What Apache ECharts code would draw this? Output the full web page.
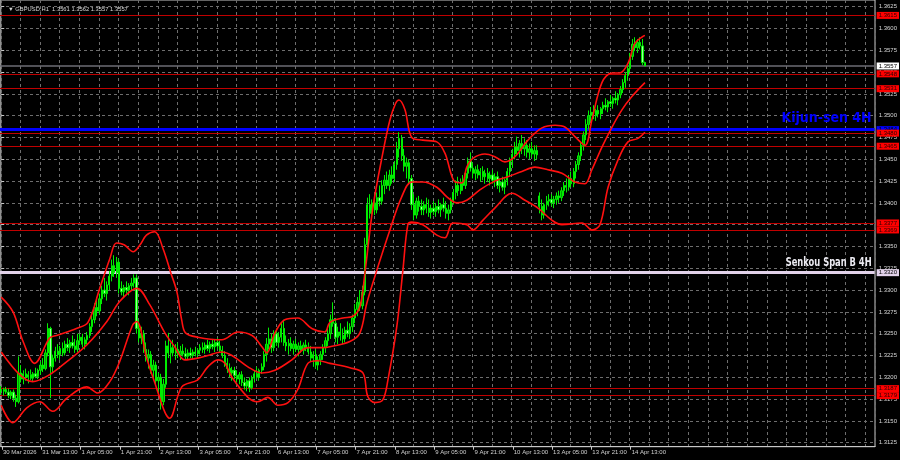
<!DOCTYPE html>
<html><head><meta charset="utf-8">
<script src="https://cdn.jsdelivr.net/npm/echarts@6/dist/echarts.min.js"></script>
<style>html,body{margin:0;padding:0;background:#000;}#c{width:900px;height:460px;}</style>
</head><body><div id="c"></div>
<script>
const headerText = 'GBPUSD,H1  1.3561 1.3562 1.3557 1.3557';
const slotCount = 356;
const timeLabels = ['30 Mar 2026','31 Mar 13:00','1 Apr 05:00','1 Apr 21:00','2 Apr 13:00','3 Apr 05:00','3 Apr 21:00','6 Apr 13:00','7 Apr 05:00','7 Apr 21:00','8 Apr 13:00','9 Apr 05:00','9 Apr 21:00','10 Apr 13:00','13 Apr 05:00','13 Apr 21:00','14 Apr 13:00'];
const priceMin = 1.3125, priceMax = 1.3625, priceStep = 0.0025;
// [open, high, low, close]
const ohlc = [
[1.3186,1.3190,1.3180,1.3184],[1.3184,1.3188,1.3179,1.3186],[1.3186,1.3189,1.3181,1.3183],[1.3183,1.3187,1.3176,1.3179],[1.3179,1.3185,1.3175,1.3183],
[1.3183,1.3186,1.3172,1.3176],[1.3176,1.3180,1.3166,1.3172],[1.3172,1.3224,1.3170,1.3205],[1.3205,1.3214,1.3194,1.3198],[1.3198,1.3208,1.3192,1.3204],
[1.3204,1.3210,1.3196,1.3200],[1.3200,1.3207,1.3193,1.3203],[1.3203,1.3209,1.3197,1.3199],[1.3199,1.3206,1.3195,1.3204],[1.3204,1.3211,1.3199,1.3201],
[1.3201,1.3210,1.3198,1.3208],[1.3208,1.3218,1.3203,1.3214],[1.3214,1.3222,1.3206,1.3210],[1.3210,1.3232,1.3208,1.3228],[1.3228,1.3262,1.3224,1.3256],
[1.3256,1.3258,1.3176,1.3212],[1.3212,1.3226,1.3205,1.3222],[1.3222,1.3235,1.3218,1.3230],[1.3230,1.3238,1.3222,1.3226],[1.3226,1.3236,1.3220,1.3233],
[1.3233,1.3240,1.3224,1.3228],[1.3228,1.3242,1.3225,1.3238],[1.3238,1.3245,1.3230,1.3234],[1.3234,1.3243,1.3228,1.3240],[1.3240,1.3248,1.3233,1.3236],
[1.3236,1.3244,1.3228,1.3232],[1.3232,1.3250,1.3229,1.3242],[1.3242,1.3250,1.3238,1.3246],[1.3246,1.3250,1.3234,1.3238],[1.3238,1.3246,1.3232,1.3243],
[1.3243,1.3252,1.3238,1.3248],[1.3248,1.3262,1.3245,1.3258],[1.3258,1.3272,1.3252,1.3266],[1.3266,1.3285,1.3262,1.3280],[1.3280,1.3292,1.3270,1.3276],
[1.3276,1.3296,1.3272,1.3290],[1.3290,1.3305,1.3284,1.3300],[1.3300,1.3314,1.3292,1.3296],[1.3296,1.3310,1.3288,1.3306],[1.3306,1.3322,1.3300,1.3316],
[1.3316,1.3335,1.3310,1.3328],[1.3328,1.3340,1.3315,1.3320],[1.3320,1.3338,1.3314,1.3332],[1.3332,1.3336,1.3296,1.3302],[1.3302,1.3310,1.3294,1.3298],
[1.3298,1.3306,1.3292,1.3303],[1.3303,1.3310,1.3296,1.3300],[1.3300,1.3308,1.3294,1.3305],[1.3305,1.3314,1.3300,1.3308],[1.3308,1.3318,1.3303,1.3314],
[1.3314,1.3318,1.3250,1.3256],[1.3256,1.3266,1.3240,1.3245],[1.3245,1.3258,1.3238,1.3250],[1.3250,1.3254,1.3228,1.3232],[1.3232,1.3240,1.3218,1.3222],
[1.3222,1.3232,1.3210,1.3226],[1.3226,1.3230,1.3204,1.3208],[1.3208,1.3220,1.3198,1.3214],[1.3214,1.3218,1.3192,1.3196],[1.3196,1.3205,1.3180,1.3200],
[1.3200,1.3204,1.3163,1.3172],[1.3172,1.3198,1.3168,1.3192],[1.3192,1.3242,1.3188,1.3236],[1.3236,1.3251,1.3222,1.3228],[1.3228,1.3240,1.3216,1.3234],
[1.3234,1.3243,1.3224,1.3228],[1.3228,1.3238,1.3220,1.3232],[1.3232,1.3240,1.3222,1.3226],[1.3226,1.3236,1.3220,1.3230],[1.3230,1.3238,1.3224,1.3227],
[1.3227,1.3234,1.3221,1.3224],[1.3224,1.3232,1.3220,1.3228],[1.3228,1.3234,1.3222,1.3225],[1.3225,1.3232,1.3221,1.3229],[1.3229,1.3235,1.3224,1.3227],
[1.3227,1.3233,1.3222,1.3231],[1.3231,1.3238,1.3226,1.3234],[1.3234,1.3240,1.3228,1.3232],[1.3232,1.3240,1.3227,1.3237],[1.3237,1.3243,1.3230,1.3233],
[1.3233,1.3241,1.3228,1.3238],[1.3238,1.3244,1.3232,1.3235],[1.3235,1.3243,1.3229,1.3240],[1.3240,1.3245,1.3232,1.3236],[1.3236,1.3242,1.3228,1.3231],
[1.3231,1.3236,1.3222,1.3225],[1.3225,1.3230,1.3212,1.3216],[1.3216,1.3222,1.3205,1.3210],[1.3210,1.3216,1.3200,1.3205],[1.3205,1.3212,1.3196,1.3208],
[1.3208,1.3212,1.3198,1.3202],[1.3202,1.3208,1.3194,1.3198],[1.3198,1.3206,1.3192,1.3203],[1.3203,1.3207,1.3190,1.3194],[1.3194,1.3200,1.3186,1.3190],
[1.3190,1.3198,1.3184,1.3196],[1.3196,1.3200,1.3183,1.3188],[1.3188,1.3202,1.3186,1.3199],[1.3199,1.3208,1.3194,1.3204],[1.3204,1.3212,1.3198,1.3200],
[1.3200,1.3210,1.3196,1.3208],[1.3208,1.3216,1.3204,1.3212],[1.3212,1.3230,1.3208,1.3226],[1.3226,1.3245,1.3218,1.3238],[1.3238,1.3257,1.3232,1.3244],
[1.3244,1.3250,1.3228,1.3234],[1.3234,1.3254,1.3230,1.3250],[1.3250,1.3256,1.3236,1.3240],[1.3240,1.3252,1.3234,1.3246],[1.3246,1.3262,1.3240,1.3256],
[1.3256,1.3266,1.3236,1.3240],[1.3240,1.3248,1.3230,1.3236],[1.3236,1.3244,1.3226,1.3239],[1.3239,1.3246,1.3230,1.3233],[1.3233,1.3242,1.3226,1.3238],
[1.3238,1.3244,1.3229,1.3232],[1.3232,1.3240,1.3224,1.3236],[1.3236,1.3242,1.3228,1.3231],[1.3231,1.3240,1.3226,1.3237],[1.3237,1.3243,1.3230,1.3234],
[1.3234,1.3240,1.3226,1.3229],[1.3229,1.3236,1.3218,1.3222],[1.3222,1.3230,1.3212,1.3226],[1.3226,1.3232,1.3210,1.3214],[1.3214,1.3224,1.3208,1.3220],
[1.3220,1.3230,1.3214,1.3226],[1.3226,1.3238,1.3220,1.3234],[1.3234,1.3246,1.3228,1.3242],[1.3242,1.3256,1.3236,1.3250],[1.3250,1.3272,1.3244,1.3266],
[1.3266,1.3286,1.3258,1.3262],[1.3262,1.3268,1.3240,1.3246],[1.3246,1.3258,1.3238,1.3252],[1.3252,1.3262,1.3242,1.3248],[1.3248,1.3256,1.3238,1.3244],
[1.3244,1.3258,1.3240,1.3254],[1.3254,1.3264,1.3246,1.3250],[1.3250,1.3262,1.3244,1.3258],[1.3258,1.3272,1.3252,1.3268],[1.3268,1.3284,1.3262,1.3278],
[1.3278,1.3292,1.3270,1.3286],[1.3286,1.3300,1.3276,1.3282],[1.3282,1.3305,1.3278,1.3298],[1.3298,1.3360,1.3294,1.3352],[1.3352,1.3406,1.3348,1.3398],
[1.3398,1.3410,1.3382,1.3388],[1.3388,1.3404,1.3380,1.3400],[1.3400,1.3408,1.3386,1.3392],[1.3392,1.3412,1.3388,1.3406],[1.3406,1.3420,1.3396,1.3402],
[1.3402,1.3426,1.3398,1.3420],[1.3420,1.3432,1.3410,1.3426],[1.3426,1.3436,1.3416,1.3420],[1.3420,1.3438,1.3414,1.3432],[1.3432,1.3442,1.3422,1.3428],
[1.3428,1.3448,1.3424,1.3444],[1.3444,1.3470,1.3438,1.3462],[1.3462,1.3481,1.3452,1.3474],[1.3474,1.3478,1.3448,1.3454],[1.3454,1.3462,1.3436,1.3442],
[1.3442,1.3452,1.3428,1.3446],[1.3446,1.3450,1.3422,1.3428],[1.3428,1.3432,1.3392,1.3398],[1.3398,1.3410,1.3380,1.3386],[1.3386,1.3406,1.3382,1.3402],
[1.3402,1.3408,1.3390,1.3396],[1.3396,1.3404,1.3386,1.3392],[1.3392,1.3402,1.3386,1.3398],[1.3398,1.3406,1.3388,1.3394],[1.3394,1.3404,1.3384,1.3389],
[1.3389,1.3398,1.3382,1.3394],[1.3394,1.3402,1.3386,1.3390],[1.3390,1.3400,1.3384,1.3396],[1.3396,1.3404,1.3388,1.3392],[1.3392,1.3400,1.3384,1.3398],
[1.3398,1.3406,1.3390,1.3394],[1.3394,1.3402,1.3382,1.3388],[1.3388,1.3398,1.3380,1.3392],[1.3392,1.3406,1.3388,1.3402],[1.3402,1.3416,1.3398,1.3412],
[1.3412,1.3426,1.3404,1.3420],[1.3420,1.3430,1.3408,1.3414],[1.3414,1.3428,1.3410,1.3424],[1.3424,1.3432,1.3414,1.3420],[1.3420,1.3438,1.3416,1.3434],
[1.3434,1.3452,1.3428,1.3448],[1.3448,1.3458,1.3436,1.3440],[1.3440,1.3446,1.3428,1.3434],[1.3434,1.3442,1.3426,1.3438],[1.3438,1.3444,1.3428,1.3432],
[1.3432,1.3440,1.3424,1.3436],[1.3436,1.3442,1.3426,1.3430],[1.3430,1.3438,1.3422,1.3434],[1.3434,1.3440,1.3424,1.3428],[1.3428,1.3436,1.3420,1.3432],
[1.3432,1.3438,1.3422,1.3426],[1.3426,1.3434,1.3418,1.3430],[1.3430,1.3436,1.3416,1.3420],[1.3420,1.3428,1.3412,1.3424],[1.3424,1.3430,1.3414,1.3418],
[1.3418,1.3428,1.3410,1.3426],[1.3426,1.3440,1.3420,1.3436],[1.3436,1.3452,1.3430,1.3448],[1.3448,1.3462,1.3440,1.3456],[1.3456,1.3470,1.3450,1.3464],
[1.3464,1.3476,1.3454,1.3460],[1.3460,1.3472,1.3452,1.3468],[1.3468,1.3478,1.3456,1.3462],[1.3462,1.3474,1.3454,1.3466],[1.3466,1.3472,1.3452,1.3458],
[1.3458,1.3468,1.3450,1.3462],[1.3462,1.3470,1.3452,1.3456],[1.3456,1.3466,1.3448,1.3460],[1.3460,1.3466,1.3450,1.3455],[1.3408,1.3412,1.3388,1.3396],
[1.3396,1.3404,1.3380,1.3386],[1.3386,1.3400,1.3382,1.3398],[1.3398,1.3408,1.3392,1.3402],[1.3402,1.3410,1.3396,1.3404],[1.3404,1.3410,1.3396,1.3400],
[1.3400,1.3408,1.3394,1.3404],[1.3404,1.3412,1.3398,1.3408],[1.3408,1.3414,1.3400,1.3406],[1.3406,1.3418,1.3402,1.3414],[1.3414,1.3424,1.3408,1.3420],
[1.3420,1.3428,1.3412,1.3418],[1.3418,1.3432,1.3414,1.3428],[1.3428,1.3436,1.3418,1.3422],[1.3422,1.3440,1.3418,1.3436],[1.3436,1.3448,1.3428,1.3444],
[1.3444,1.3458,1.3438,1.3454],[1.3454,1.3470,1.3448,1.3466],[1.3466,1.3482,1.3460,1.3478],[1.3478,1.3496,1.3472,1.3490],[1.3490,1.3506,1.3484,1.3500],
[1.3500,1.3510,1.3494,1.3504],[1.3504,1.3512,1.3496,1.3500],[1.3500,1.3508,1.3494,1.3506],[1.3506,1.3512,1.3498,1.3502],[1.3502,1.3510,1.3496,1.3508],
[1.3508,1.3516,1.3502,1.3512],[1.3512,1.3520,1.3506,1.3510],[1.3510,1.3518,1.3504,1.3516],[1.3516,1.3524,1.3510,1.3514],[1.3514,1.3522,1.3508,1.3520],
[1.3520,1.3528,1.3514,1.3518],[1.3518,1.3526,1.3512,1.3524],[1.3524,1.3534,1.3520,1.3530],[1.3530,1.3542,1.3526,1.3538],[1.3538,1.3550,1.3532,1.3546],
[1.3546,1.3558,1.3540,1.3554],[1.3554,1.3572,1.3550,1.3568],[1.3568,1.3588,1.3564,1.3582],[1.3582,1.3590,1.3574,1.3578],[1.3578,1.3588,1.3572,1.3584],
[1.3584,1.3590,1.3576,1.3580],[1.3580,1.3588,1.3558,1.3561],[1.3561,1.3562,1.3557,1.3557]
];
// Bollinger band lines: [bar index, price]
const bandUpper = [[0,1.3292],[4.8,1.3275],[8.9,1.3241],[13.6,1.3216],[19.7,1.3245],[22.5,1.3248],[30.6,1.3256],[35.3,1.3263],[40.1,1.3302],[44.2,1.3336],[46.9,1.3354],[50,1.3352],[53.7,1.3344],[56.5,1.3352],[59.1,1.3363],[62.5,1.3367],[65.8,1.3348],[69,1.3320],[71.5,1.3298],[73.5,1.3265],[75,1.3251],[80,1.3246],[89.8,1.3243],[96.3,1.3252],[102.1,1.3248],[106.1,1.3235],[108.1,1.3228],[111.4,1.3251],[115.4,1.3266],[120.7,1.3268],[126.4,1.3256],[131.7,1.3252],[133.8,1.3263],[139.1,1.3268],[143.1,1.3270],[146,1.3281],[148,1.3319],[151.3,1.3395],[155.3,1.3457],[158.2,1.3495],[160.5,1.3514],[161.9,1.3518],[164.3,1.3507],[167.1,1.3475],[171.6,1.3472],[177.3,1.3470],[180.6,1.3457],[184.7,1.3424],[187.5,1.3423],[189.5,1.3441],[192,1.3451],[196.9,1.3456],[200.9,1.3453],[205,1.3447],[209.1,1.3453],[214.4,1.3472],[220.1,1.3486],[225.4,1.3489],[229.4,1.3487],[233.5,1.3476],[237.6,1.3466],[240.4,1.3495],[244.5,1.3538],[248.6,1.3549],[251.8,1.3549],[255.1,1.3560],[257.9,1.3583],[261.2,1.3591],[262,1.3592]];
const bandMiddle = [[0,1.3229],[7.5,1.3203],[12.8,1.3195],[19.7,1.3203],[26.7,1.3218],[34.8,1.3237],[43,1.3264],[48.2,1.3287],[55.2,1.3302],[60.5,1.3283],[66.6,1.3251],[70.6,1.3235],[74.7,1.3220],[80,1.3222],[84.1,1.3225],[89.8,1.3229],[93.9,1.3225],[100.4,1.3212],[106.1,1.3205],[111.4,1.3208],[118.3,1.3220],[124.8,1.3234],[130.5,1.3234],[133.8,1.3235],[141.9,1.3241],[146,1.3251],[148.8,1.3285],[152.9,1.3323],[158.2,1.3369],[163,1.3407],[167.1,1.3424],[171.6,1.3424],[177.3,1.3418],[181.4,1.3407],[185.5,1.3400],[189.5,1.3403],[194.8,1.3415],[200.9,1.3425],[206.2,1.3430],[211.9,1.3436],[217.2,1.3441],[222.5,1.3438],[228.2,1.3434],[233.5,1.3424],[237.6,1.3422],[240.4,1.3438],[244.5,1.3464],[248.6,1.3487],[252.7,1.3507],[256.7,1.3522],[262,1.3538]];
const bandLower = [[0,1.3168],[4.7,1.3148],[10.4,1.3165],[15.7,1.3172],[21,1.3161],[26.7,1.3176],[34.8,1.3189],[39.3,1.3182],[44.2,1.3195],[48.2,1.3218],[53.5,1.3260],[55.2,1.3264],[59.2,1.3222],[63.3,1.3187],[66.6,1.3160],[68.5,1.3153],[73.5,1.3189],[80,1.3197],[84.1,1.3212],[88.2,1.3220],[91,1.3216],[93.9,1.3200],[100.4,1.3177],[104.4,1.3172],[108.5,1.3177],[112.6,1.3168],[116.7,1.3171],[120.7,1.3186],[124.8,1.3216],[128.9,1.3219],[133.8,1.3216],[141.9,1.3211],[147.2,1.3205],[149.2,1.3178],[152.1,1.3171],[155.3,1.3174],[157.4,1.3197],[161,1.3258],[163.5,1.3323],[165.5,1.3375],[167.1,1.3378],[171.6,1.3375],[177.3,1.3363],[180.6,1.3360],[183.8,1.3377],[189.5,1.3375],[192,1.3369],[196,1.3380],[200.9,1.3394],[207.9,1.3411],[213.2,1.3403],[218.5,1.3394],[224.2,1.3380],[228.2,1.3375],[236.4,1.3377],[240.4,1.3369],[243.7,1.3375],[247,1.3418],[251,1.3449],[255.1,1.3470],[259.2,1.3474],[262,1.3481]];
const redLevels = [1.3615,1.3548,1.3531,1.3480,1.3465,1.3377,1.3369,1.3187,1.3179];
const kijunLevel = 1.3484, kijunText = 'Kijun-sen 4H';
const senkouLevel = 1.3320, senkouText = 'Senkou Span B 4H';
const lastPrice = 1.3557;

const slots = Array.from({length: slotCount}, (_, i) => String(i));
const candleData = ohlc.map(r => [r[0], r[3], r[2], r[1]]);
const boxFont = {fontSize: 6, fontFamily: 'Liberation Sans, Arial, sans-serif', lineHeight: 7, padding: [0, 2, 0, 2]};
function box(bg, fg, v) {
  return Object.assign({show: true, position: 'end', distance: 2, formatter: v.toFixed(4), backgroundColor: bg, color: fg}, boxFont);
}
const bigFont = "'Liberation Sans Narrow', 'Arial Narrow', 'DejaVu Sans Condensed', sans-serif";
const marks = [
  {yAxis: kijunLevel, lineStyle: {color: '#0000ff', width: 3, type: 'solid'}, label: box('#0000ff', '#000', kijunLevel)},
  {yAxis: kijunLevel, lineStyle: {color: 'rgba(0,0,0,0)', width: 1}, label: {show: true, position: 'insideEndTop', distance: [3, 4], formatter: kijunText, color: '#0000ff', fontWeight: 'bold', fontSize: 14, fontFamily: bigFont}},
  {yAxis: senkouLevel, lineStyle: {color: '#e2d2ea', width: 3, type: 'solid'}, label: box('#e2d2ea', '#000', senkouLevel)},
  {yAxis: lastPrice, lineStyle: {color: '#6c6c74', width: 1.5, type: 'solid'}, label: box('#ffffff', '#000', lastPrice)}
].concat(redLevels.map(v => ({yAxis: v, lineStyle: {color: '#c00000', width: 1, type: 'solid'}, label: box('#ff0000', '#2a0000', v)})));

const bandStyle = {type: 'line', xAxisIndex: 2, yAxisIndex: 1, showSymbol: false, smooth: 0.35, z: 4, lineStyle: {color: '#ff1010', width: 1.6}, silent: true};
const option = {
  backgroundColor: '#000',
  animation: false,
  title: {text: '\u25BC ' + headerText, left: 3, top: 1, textStyle: {color: '#d8d8d8', fontSize: 5.8, fontWeight: 'normal', fontFamily: 'Liberation Sans, Arial, sans-serif'}},
  grid: [
    {left: 0, top: -1, width: 875, height: 447.7, show: true, borderColor: '#c8c8c8', borderWidth: 1, backgroundColor: 'transparent'},
    {left: 0, top: 6.7, width: 875, height: 436}
  ],
  xAxis: [
    {type: 'category', gridIndex: 0, data: slots, boundaryGap: true,
     axisLine: {show: true, lineStyle: {color: '#c8c8c8'}},
     axisTick: {show: true, alignWithLabel: true, length: 3, lineStyle: {color: '#c8c8c8'}, interval: (i) => i % 16 === 0 && i / 16 < timeLabels.length},
     axisLabel: {show: true, interval: (i) => i % 16 === 0 && i / 16 < timeLabels.length, formatter: (v, i) => timeLabels[i / 16] || '', align: 'left', margin: 3, padding: [0, 0, 0, 1], color: '#d0d0d0', fontSize: 6, fontFamily: 'Liberation Sans, Arial, sans-serif'},
     splitLine: {show: true, interval: 7, lineStyle: {color: '#6e6e6e', type: [3, 3], width: 1}}},
    {type: 'category', gridIndex: 1, data: slots, show: false},
    {type: 'value', gridIndex: 1, min: -0.5, max: slotCount - 0.5, show: false}
  ],
  yAxis: [
    {type: 'value', gridIndex: 0, min: 0, max: 1, show: false},
    {type: 'value', gridIndex: 1, position: 'right', min: priceMin, max: priceMax, interval: priceStep,
     axisLine: {show: false},
     axisTick: {show: true, length: 3, lineStyle: {color: '#c8c8c8'}},
     axisLabel: {show: true, margin: 4, color: '#d8d8d8', fontSize: 6, fontFamily: 'Liberation Sans, Arial, sans-serif', formatter: (v) => v.toFixed(4)},
     splitLine: {show: true, lineStyle: {color: '#6e6e6e', type: [3, 3], width: 1}}}
  ],
  series: [
    {type: 'candlestick', xAxisIndex: 1, yAxisIndex: 1, data: candleData, barWidth: 1.8, z: 3,
     itemStyle: {color: '#00a000', color0: '#a0ffa0', borderColor: '#00ee00', borderColor0: '#00ee00', borderWidth: 1},
     markLine: {silent: true, precision: 4, symbol: ['none', 'none'], animation: false, z: 2, data: marks}},
    Object.assign({name: 'upper', data: bandUpper}, bandStyle),
    Object.assign({name: 'middle', data: bandMiddle}, bandStyle),
    Object.assign({name: 'lower', data: bandLower}, bandStyle)
  ]
};
const chart = echarts.init(document.getElementById('c'), null, {renderer: 'canvas'});
chart.setOption(option);

// Senkou label: condensed bold text placed on its level through the axis scales
const senkouFont = "bold 12px 'DejaVu Sans Condensed', 'DejaVu Sans', sans-serif";
const mctx = document.createElement('canvas').getContext('2d');
mctx.font = senkouFont;
const senkouWidth = mctx.measureText(senkouText).width || 110;
const ySenkou = chart.convertToPixel({yAxisIndex: 1}, senkouLevel);
const xEnd = chart.convertToPixel({xAxisIndex: 2}, slotCount - 0.5);
chart.setOption({graphic: [{type: 'text', x: xEnd - 3, y: ySenkou - 4, scaleX: 86 / senkouWidth, z: 10, silent: true,
  style: {text: senkouText, fill: '#ecebf2', font: senkouFont, align: 'right', verticalAlign: 'bottom'}}]});
</script></body></html>
